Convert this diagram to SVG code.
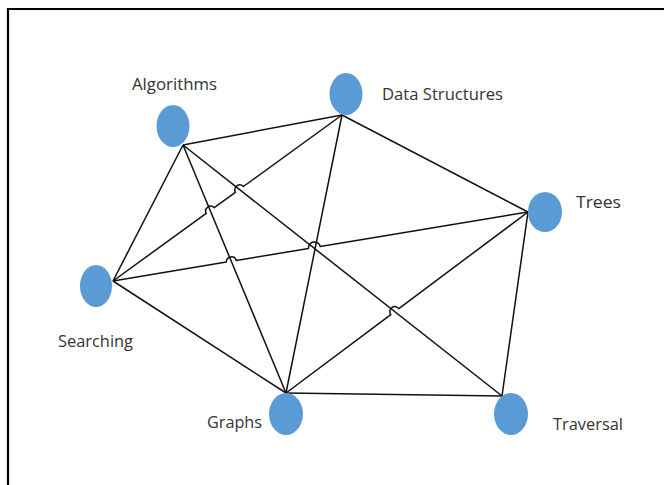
<svg xmlns="http://www.w3.org/2000/svg" width="664" height="485" viewBox="0 0 664 485">
<style>
.node{fill:#5b9bd5;}
.lbl{font-family:"Open Sans","Liberation Sans",sans-serif;font-size:15.5px;fill:#333;}
.edge{fill:none;stroke:#111;stroke-width:1.5;stroke-linejoin:round;}
</style>
<rect x="0" y="0" width="664" height="485" fill="#fff"/>
<path d="M8 485 V9 H664" fill="none" stroke="#000" stroke-width="2.2"/>
<g id="connectors">
<path class="edge" d="M183 145 L342 115"/>
<path class="edge" d="M183 145 L113 281"/>
<path class="edge" d="M183 145 L286 393"/>
<path class="edge" d="M183 145 L502 396"/>
<path class="edge" d="M113 281 L206.2 213.4 A5 5 0 0 1 214.2 207.6 L235.4 192.3 A5 5 0 0 1 243.4 186.5 L342 115"/>
<path class="edge" d="M342 115 L286 393"/>
<path class="edge" d="M342 115 L528 212"/>
<path class="edge" d="M113 281 L226.4 262.1 A5 5 0 0 1 236.2 260.5 L308.5 248.5 A6 6 0 0 1 320.3 246.5 L528 212"/>
<path class="edge" d="M113 281 L286 393"/>
<path class="edge" d="M286 393 L390.8 314.6 A5 5 0 0 1 398.8 308.6 L528 212"/>
<path class="edge" d="M286 393 L502 396"/>
<path class="edge" d="M528 212 L502 396"/>
</g>
<g id="algorithms"><ellipse class="node" cx="173" cy="126" rx="16.5" ry="21"/><text class="lbl" x="132" y="90" textLength="85" lengthAdjust="spacingAndGlyphs">Algorithms</text></g>
<g id="data-structures"><ellipse class="node" cx="346" cy="94" rx="16.5" ry="21"/><text class="lbl" x="382" y="100" textLength="121" lengthAdjust="spacingAndGlyphs">Data Structures</text></g>
<g id="trees"><ellipse class="node" cx="545" cy="212" rx="17" ry="20"/><text class="lbl" x="576" y="208" textLength="45" lengthAdjust="spacingAndGlyphs">Trees</text></g>
<g id="searching"><ellipse class="node" cx="96" cy="286" rx="16" ry="21"/><text class="lbl" x="58" y="347" textLength="75" lengthAdjust="spacingAndGlyphs">Searching</text></g>
<g id="graphs"><ellipse class="node" cx="286" cy="414" rx="17" ry="21"/><text class="lbl" x="207" y="428" textLength="55" lengthAdjust="spacingAndGlyphs">Graphs</text></g>
<g id="traversal"><ellipse class="node" cx="511" cy="414" rx="17" ry="21"/><text class="lbl" x="553" y="430" textLength="70" lengthAdjust="spacingAndGlyphs">Traversal</text></g>
</svg>
